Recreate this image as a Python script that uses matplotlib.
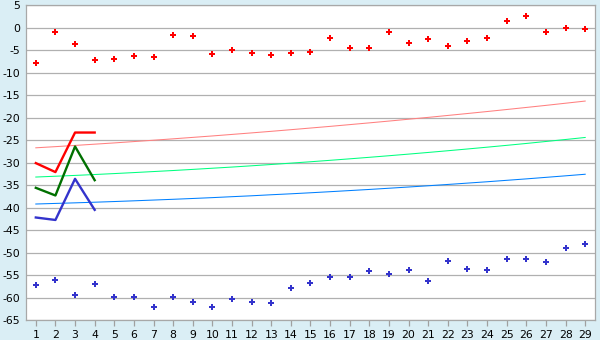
import matplotlib
matplotlib.use('Agg')
import matplotlib.pyplot as plt
import numpy as np

categories = list(range(1, 30))
tick_labels = [str(c) for c in categories]

# scattered points
red_points = [-7.9, -1.0, -3.7, -7.2, -7.0, -6.3, -6.6, -1.7, -1.9, -5.9,
              -5.0, -5.7, -6.1, -5.7, -5.45, -2.3, -4.6, -4.6, -1.0, -3.45,
              -2.6, -4.1, -3.0, -2.3, 1.45, 2.55, -1.0, -0.1, -0.35]
blue_points = [-57.3, -56.2, -59.5, -57.05, -59.95, -59.95, -62.2, -59.95, -61.05, -62.2,
               -60.4, -61.05, -61.3, -57.9, -56.8, -55.5, -55.5, -54.1, -54.8, -53.9,
               -56.4, -51.9, -53.7, -53.9, -51.5, -51.5, -52.2, -49.05, -48.2]

# thin trend lines
pink_line = [-26.70, -26.44, -26.17, -25.89, -25.61, -25.31, -25.01, -24.70, -24.38, -24.06,
             -23.72, -23.38, -23.03, -22.67, -22.30, -21.93, -21.54, -21.15, -20.75, -20.34,
             -19.93, -19.50, -19.07, -18.63, -18.18, -17.72, -17.26, -16.78, -16.30]
green_line = [-33.20, -33.02, -32.84, -32.64, -32.43, -32.21, -31.98, -31.75, -31.50, -31.24,
              -30.98, -30.70, -30.41, -30.11, -29.80, -29.48, -29.15, -28.81, -28.46, -28.10,
              -27.73, -27.35, -26.96, -26.56, -26.15, -25.73, -25.29, -24.85, -24.40]
blue_line = [-39.20, -39.07, -38.94, -38.80, -38.65, -38.49, -38.32, -38.15, -37.97, -37.78,
             -37.57, -37.37, -37.14, -36.93, -36.70, -36.46, -36.21, -35.96, -35.69, -35.42,
             -35.14, -34.85, -34.55, -34.25, -33.93, -33.61, -33.27, -32.93, -32.58]

# short thick lines (first four categories)
short_x = [1, 2, 3, 4]
red_short = [-30.1, -32.1, -23.3, -23.3]
green_short = [-35.6, -37.3, -26.4, -33.9]
blue_short = [-42.2, -42.75, -33.6, -40.5]

plt.rcParams['axes.unicode_minus'] = False
plt.rcParams['font.family'] = ['DejaVu Sans']

fig = plt.figure(figsize=(6, 3.4), dpi=100)
fig.patch.set_facecolor('#daeef5')
ax = fig.add_axes([26 / 600, 1 - 320 / 340, 569 / 600, (320 - 5.3) / 340])
ax.set_facecolor('white')

ax.plot(categories, pink_line, color='#ff8080', linewidth=0.75, zorder=2)
ax.plot(categories, green_line, color='#00ff80', linewidth=0.75, zorder=2)
ax.plot(categories, blue_line, color='#0080ff', linewidth=0.75, zorder=2)

ax.plot(short_x, red_short, color='#ff0000', linewidth=1.7, zorder=3)
ax.plot(short_x, green_short, color='#007000', linewidth=1.7, zorder=3)
ax.plot(short_x, blue_short, color='#3333cc', linewidth=1.7, zorder=3)

ax.plot(categories, red_points, linestyle='none', marker='P', markersize=4.3,
        color='#ff0000', markeredgewidth=0, zorder=4)
ax.plot(categories, blue_points, linestyle='none', marker='P', markersize=4.3,
        color='#3333cc', markeredgewidth=0, zorder=4)

ax.set_xlim(0.5, 29.5)
ax.set_ylim(-65, 5)
ax.set_xticks(categories)
ax.set_xticklabels(tick_labels)
ax.set_yticks(np.arange(-65, 6, 5))

ax.grid(axis='y', color='#b0b0b0', linewidth=0.9)
ax.set_axisbelow(True)
for s in ax.spines.values():
    s.set_color('#a8a8a8')
    s.set_linewidth(0.9)

ax.tick_params(axis='x', length=4, width=0.9, color='#a0a0a0', pad=3, labelsize=7.8)
ax.tick_params(axis='y', length=0, pad=4, labelsize=7.8)

fig.savefig('out.png', dpi=100, facecolor=fig.get_facecolor())
